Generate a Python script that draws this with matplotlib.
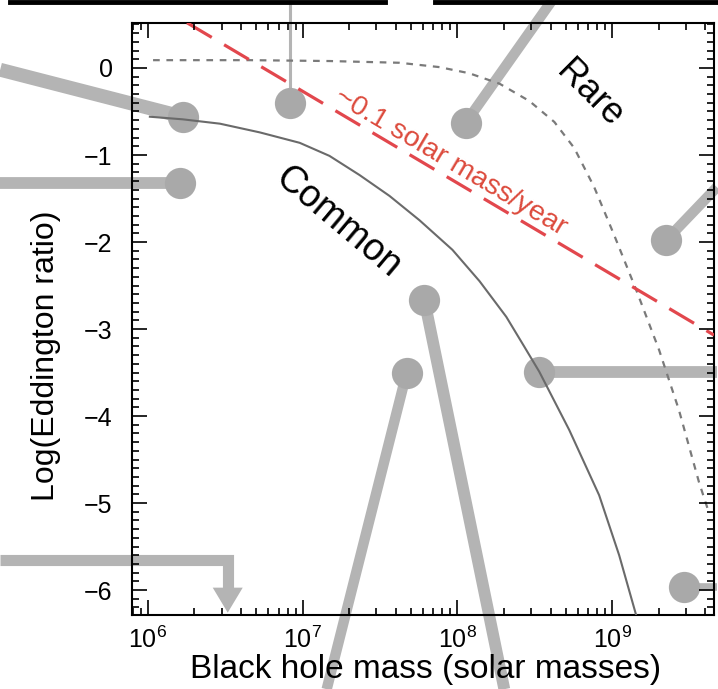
import matplotlib
matplotlib.use("Agg")
import matplotlib.pyplot as plt
from matplotlib.ticker import LogLocator, MultipleLocator, FixedLocator
from matplotlib.lines import Line2D
import numpy as np

plt.rcParams['font.family'] = ['Liberation Sans', 'DejaVu Sans']
plt.rcParams['mathtext.fontset'] = 'custom'
plt.rcParams['mathtext.rm'] = 'Liberation Sans'
plt.rcParams['mathtext.it'] = 'Liberation Sans:italic'

# Data __________________________________________________________________
# "Common" solid curve (black hole mass, log Eddington ratio)
common_mass = [1.03e6, 1.68e6, 2.92e6, 5.28e6, 9.57e6, 1.49e7, 2.33e7, 3.64e7,
               5.69e7, 9.29e7, 1.39e8, 2.07e8, 2.70e8, 3.38e8, 5.28e8, 8.24e8,
               1.11e9, 1.43e9]
common_ratio = [-0.56, -0.59, -0.64, -0.74, -0.86, -1.01, -1.23, -1.47,
                -1.75, -2.09, -2.45, -2.86, -3.20, -3.49, -4.16, -4.91,
                -5.60, -6.29]

# "Rare" dashed curve
rare_mass = [1.08e6, 4.55e6, 1.49e7, 4.23e7, 7.66e7, 1.19e8, 1.87e8, 2.92e8,
             4.23e8, 5.69e8, 7.66e8, 1.03e9, 1.43e9, 2.01e9, 2.70e9, 3.64e9,
             4.20e9]
rare_ratio = [0.09, 0.09, 0.08, 0.06, 0.01, -0.06, -0.18, -0.38,
              -0.62, -0.92, -1.37, -1.92, -2.55, -3.24, -3.93, -4.76,
              -5.10]

# ~0.1 solar mass/year line
mdot_mass = [1.79e6, 4.55e9]
mdot_ratio = [0.52, -3.07]

# individual galaxies (circles) and where their callout lines leave the panel
gal_mass = [1.68e6, 1.61e6, 8.24e6, 1.13e8, 2.23e9, 6.12e7, 4.69e7, 3.38e8, 2.92e9]
gal_ratio = [-0.56, -1.32, -0.40, -0.63, -1.98, -2.67, -3.51, -3.49, -5.97]
call_mass = [1.11e5, 1.11e5, 8.24e6, 4.10e8, 4.75e9, 2.01e8, 1.43e7, 4.75e9, 4.75e9]
call_ratio = [-0.02, -1.32, 0.78, 0.78, -1.37, -7.14, -7.14, -3.49, -5.97]
call_width = [10, 8.5, 2.2, 7.5, 7.5, 8.5, 7.5, 8.5, 5.5]

# upper limit (arrow)
lim_mass = 3.28e6
lim_start_mass = 1.11e5
lim_level = -5.655
lim_head_base = -5.98
lim_tip = -6.26

# Plot ___________________________________________________________________
fig = plt.figure(figsize=(7.18, 6.89), dpi=100)
ax = fig.add_axes([0.1838, 0.1074, 0.8106, 0.8592])
ax.set_xscale('log')
ax.set_xlim(7.89e5, 4.55e9)
ax.set_ylim(-6.287, 0.517)

LINE_GREY = '#b4b4b4'
DOT_GREY = '#a9a9a9'

for m, r, cm, cr, w in zip(gal_mass, gal_ratio, call_mass, call_ratio, call_width):
    ax.plot([m, cm], [r, cr], color=LINE_GREY, lw=w, solid_capstyle='butt',
            clip_on=False, zorder=2)
ax.plot(gal_mass, gal_ratio, 'o', ms=22.5, color=DOT_GREY, mec='none',
        clip_on=False, zorder=3)

# upper limit callout with arrow
ax.plot([lim_start_mass, lim_mass, lim_mass], [lim_level, lim_level, lim_head_base],
        color=LINE_GREY, lw=8, solid_joinstyle='miter', solid_capstyle='butt',
        clip_on=False, zorder=2)
ax.annotate('', xy=(lim_mass, lim_tip), xytext=(lim_mass, lim_head_base),
            arrowprops=dict(arrowstyle='-|>,head_length=1.0,head_width=0.6',
                            mutation_scale=18, lw=0, color=LINE_GREY,
                            shrinkA=0, shrinkB=0), zorder=2)

ax.plot(common_mass, common_ratio, color='#6a6a6a', lw=1.5, zorder=4)
ax.plot(rare_mass, rare_ratio, color='#7a7a7a', lw=1.6, dashes=(3, 3), zorder=4)
ax.plot(mdot_mass, mdot_ratio, color='#e2474d', lw=2.3, dashes=(9, 4.5), zorder=5)

ax.text(9.02e7, -1.08, '~0.1 solar mass/year', color='#dc4a3c', fontsize=20.5,
        rotation=-30.6, ha='center', va='center', zorder=6)
ax.text(7.1e8, -0.30, 'Rare', fontsize=26, rotation=-45, ha='center', va='center')
ax.text(1.70e7, -1.77, 'Common', fontsize=27, rotation=-40, ha='center', va='center')

# axes styling
ax.xaxis.set_major_locator(LogLocator(base=10, numticks=10))
ax.xaxis.set_minor_locator(LogLocator(base=10, subs=np.arange(2, 10), numticks=20))
ax.yaxis.set_major_locator(FixedLocator([0, -1, -2, -3, -4, -5, -6]))
ax.yaxis.set_minor_locator(MultipleLocator(0.1))
ax.tick_params(which='both', direction='in', top=True, right=True, width=1.2)
ax.tick_params(which='major', length=11, labelsize=18)
ax.tick_params(which='minor', length=5)
ax.tick_params(axis='x', pad=8)
ax.tick_params(axis='y', pad=14)
for s in ax.spines.values():
    s.set_linewidth(1.5)

ax.set_xlabel('Black hole mass (solar masses)', fontsize=24)
ax.set_ylabel('Log(Eddington ratio)', fontsize=23)
ax.xaxis.set_label_coords(0.505, -0.066)
ax.yaxis.set_label_coords(-0.122, 0.4375)
# axis text sits above the callout lines
ax.xaxis.set_zorder(6)
ax.yaxis.set_zorder(6)

# bottom edges of the panels above (cut off in this crop)
fig.add_artist(Line2D([10 / 718, 385 / 718], [1 - 2 / 689, 1 - 2 / 689],
                      color='black', lw=3.5))
fig.add_artist(Line2D([435 / 718, 1.0], [1 - 2 / 689, 1 - 2 / 689],
                      color='black', lw=3.5))

fig.savefig('out.png', dpi=100)
